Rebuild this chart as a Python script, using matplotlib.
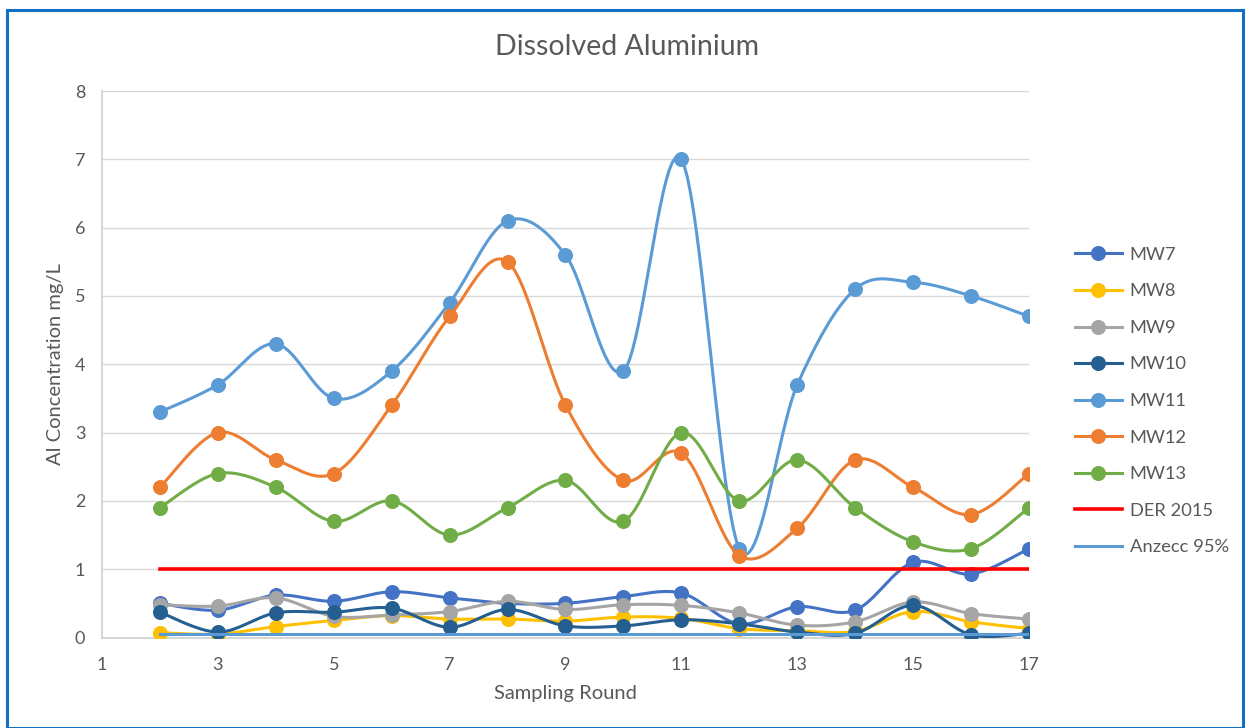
import numpy as np
import matplotlib
matplotlib.use('Agg')
import matplotlib.pyplot as plt
from matplotlib.patches import Rectangle

plt.rcParams['font.family'] = ['Lato', 'DejaVu Sans']

rounds = list(range(2, 18))
mw7 = [0.5, 0.4, 0.62, 0.53, 0.67, 0.58, 0.5, 0.5, 0.6, 0.65, 0.2, 0.45, 0.4, 1.1, 0.93, 1.3]
mw8 = [0.07, 0.05, 0.16, 0.25, 0.32, 0.27, 0.27, 0.24, 0.3, 0.28, 0.13, 0.1, 0.09, 0.38, 0.23, 0.13]
mw9 = [0.48, 0.46, 0.58, 0.31, 0.33, 0.38, 0.53, 0.41, 0.48, 0.47, 0.36, 0.18, 0.23, 0.52, 0.35, 0.27]
mw10 = [0.37, 0.08, 0.36, 0.37, 0.43, 0.15, 0.41, 0.17, 0.17, 0.26, 0.2, 0.08, 0.06, 0.47, 0.04, 0.06]
mw11 = [3.3, 3.7, 4.3, 3.5, 3.9, 4.9, 6.1, 5.6, 3.9, 7.0, 1.3, 3.7, 5.1, 5.2, 5.0, 4.7]
mw12 = [2.2, 3.0, 2.6, 2.4, 3.4, 4.7, 5.5, 3.4, 2.3, 2.7, 1.2, 1.6, 2.6, 2.2, 1.8, 2.4]
mw13 = [1.9, 2.4, 2.2, 1.7, 2.0, 1.5, 1.9, 2.3, 1.7, 3.0, 2.0, 2.6, 1.9, 1.4, 1.3, 1.9]
der2015 = 1.0
anzecc95 = 0.055

series = [
    ('MW7', mw7, '#4472C4'),
    ('MW8', mw8, '#FFC000'),
    ('MW9', mw9, '#A5A5A5'),
    ('MW10', mw10, '#255E91'),
    ('MW11', mw11, '#5B9BD5'),
    ('MW12', mw12, '#ED7D31'),
    ('MW13', mw13, '#70AD47'),
]


def smooth(x, y, n=20):
    # Excel-style smoothed line (cubic bezier, catmull-rom tangents)
    x = np.asarray(x, float)
    y = np.asarray(y, float)
    px = np.concatenate([[x[0]], x, [x[-1]]])
    py = np.concatenate([[y[0]], y, [y[-1]]])
    xs, ys = [], []
    t = np.linspace(0, 1, n)
    for i in range(1, len(px) - 2):
        p0 = np.array([px[i], py[i]])
        p3 = np.array([px[i + 1], py[i + 1]])
        c1 = p0 + (np.array([px[i + 1], py[i + 1]]) - np.array([px[i - 1], py[i - 1]])) / 6
        c2 = p3 - (np.array([px[i + 2], py[i + 2]]) - np.array([px[i], py[i]])) / 6
        b = ((1 - t) ** 3)[:, None] * p0 + (3 * (1 - t) ** 2 * t)[:, None] * c1 \
            + (3 * (1 - t) * t ** 2)[:, None] * c2 + (t ** 3)[:, None] * p3
        xs.extend(b[:, 0])
        ys.extend(b[:, 1])
    return xs, ys


fig = plt.figure(figsize=(12.46, 7.28), dpi=100)
ax = fig.add_axes([102 / 1246, 1 - 637.5 / 728, (1029 - 102) / 1246, (637.5 - 91) / 728])

handles = []
for i, (name, vals, col) in enumerate(series):
    sx, sy = smooth(rounds, vals)
    ax.plot(sx, sy, color=col, lw=2.2, zorder=3 + i, solid_capstyle='round')
    ax.plot(rounds, vals, 'o', color=col, ms=9.8, zorder=3 + i)
    handles.append(ax.plot([], [], '-o', color=col, ms=9.8, lw=2.2, label=name)[0])

h1, = ax.plot([rounds[0], rounds[-1]], [der2015, der2015], color='#FF0000', lw=2.6, zorder=12, label='DER 2015')
h2, = ax.plot([rounds[0], rounds[-1]], [anzecc95, anzecc95], color='#5B9BD5', lw=2.2, zorder=13, label='Anzecc 95%')
handles += [h1, h2]

ax.set_xlim(1, 17)
ax.set_ylim(0, 8)
ax.set_xticks(range(1, 18, 2))
ax.set_yticks(range(0, 9))
ax.grid(axis='y', color='#D9D9D9', lw=1)
ax.set_axisbelow(True)
for s in ['top', 'right']:
    ax.spines[s].set_visible(False)
for s in ['left', 'bottom']:
    ax.spines[s].set_color('#D0D0D0')
    ax.spines[s].set_linewidth(1.2)
ax.tick_params(length=0, labelsize=13, colors='#595959', pad=12)
ax.tick_params(axis='x', pad=14)

ax.set_xlabel('Sampling Round', fontsize=14.5, color='#595959')
ax.set_ylabel('Al Concentration mg/L', fontsize=14.5, color='#595959')
ax.xaxis.set_label_coords(0.5, -0.087)
ax.yaxis.set_label_coords(-0.041, 0.5)
fig.text(627 / 1246, 1 - 47 / 728, 'Dissolved Aluminium', ha='center', va='center',
         fontsize=20.5, color='#595959')

fig.legend(handles=handles, loc='center left', bbox_to_anchor=(1058 / 1246, 1 - 401 / 728),
           frameon=False, fontsize=13.2, labelcolor='#595959', handlelength=2.6,
           labelspacing=1.12, handletextpad=0.4)

fig.patches.append(Rectangle((7 / 1246, 0), 1236 / 1246, 1 - 10 / 728, transform=fig.transFigure,
                             fill=False, edgecolor='#1270C4', lw=2.2))

plt.savefig('out.png', dpi=100)
